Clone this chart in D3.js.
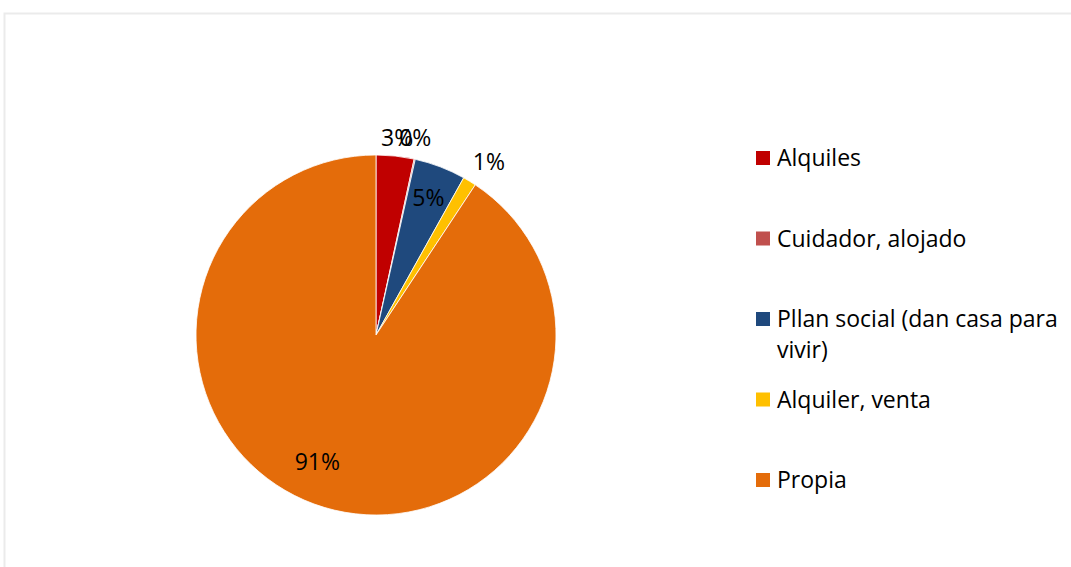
<!DOCTYPE html>
<html>
<head>
<meta charset="utf-8">
<script src="https://cdn.jsdelivr.net/npm/d3@7"></script>
<style>
  html, body { margin: 0; padding: 0; background: #fff; }
  svg { display: block; }
  text { font-family: "Open Sans", sans-serif; }
</style>
</head>
<body>
<svg id="chart" width="1071" height="567"></svg>
<script>
// Tenencia de vivienda
const categories = ["Alquiles", "Cuidador, alojado", "Pllan social (dan casa para vivir)", "Alquiler, venta", "Propia"];
const values = [3.4, 0.1, 4.6, 1.2, 90.7];
const colors = ["#C00000", "#C0504D", "#1F497D", "#FFC000", "#E46C0A"];
const legendLines = [["Alquiles"], ["Cuidador, alojado"], ["Pllan social (dan casa para", "vivir)"], ["Alquiler, venta"], ["Propia"]];

const svg = d3.select("#chart");
const W = 1071, H = 567;

// chart frame
svg.append("path")
  .attr("d", `M4.5,${H} V13.5 H${W}`)
  .attr("fill", "none")
  .attr("stroke", "#ebebeb")
  .attr("stroke-width", 2);

const cx = 376, cy = 335, R = 180;
const g = svg.append("g").attr("transform", `translate(${cx},${cy})`);

const pie = d3.pie().sort(null).value(d => d);
const arcs = pie(values);
const arc = d3.arc().innerRadius(0).outerRadius(R);

g.selectAll("path.slice")
  .data(arcs)
  .join("path")
  .attr("class", "slice")
  .attr("d", arc)
  .attr("fill", (d, i) => colors[i])
  .attr("stroke", "#fff")
  .attr("stroke-width", 0.8);

// data labels: outside for thin slices, inside for the rest
const labelRadius = [198, 201, 147, 207, 140];
const labelAngleShift = [0, -0.02, 0, 0.03, 0.14];
g.selectAll("text.lbl")
  .data(arcs)
  .join("text")
  .attr("class", "lbl")
  .attr("x", (d, i) => {
    const a = (d.startAngle + d.endAngle) / 2 + labelAngleShift[i];
    return Math.sin(a) * labelRadius[i];
  })
  .attr("y", (d, i) => {
    const a = (d.startAngle + d.endAngle) / 2 + labelAngleShift[i];
    return -Math.cos(a) * labelRadius[i];
  })
  .attr("dy", "0.35em")
  .attr("text-anchor", "middle")
  .attr("font-size", 23)
  .attr("fill", "#000")
  .text(d => Math.round(d.value) + "%");

// legend
const legendX = 756;
const rowY = d3.scalePoint().domain(d3.range(categories.length)).range([158, 480]);
const leg = svg.append("g");
categories.forEach((c, i) => {
  const y = rowY(i);
  leg.append("rect")
    .attr("x", legendX)
    .attr("y", y - 7)
    .attr("width", 14)
    .attr("height", 14)
    .attr("fill", colors[i]);
  const t = leg.append("text")
    .attr("x", legendX + 21)
    .attr("y", y)
    .attr("font-size", 23)
    .attr("fill", "#000");
  legendLines[i].forEach((line, k) => {
    t.append("tspan").attr("x", legendX + 21).attr("dy", k === 0 ? "0.35em" : 31).text(line);
  });
});
</script>
</body>
</html>
